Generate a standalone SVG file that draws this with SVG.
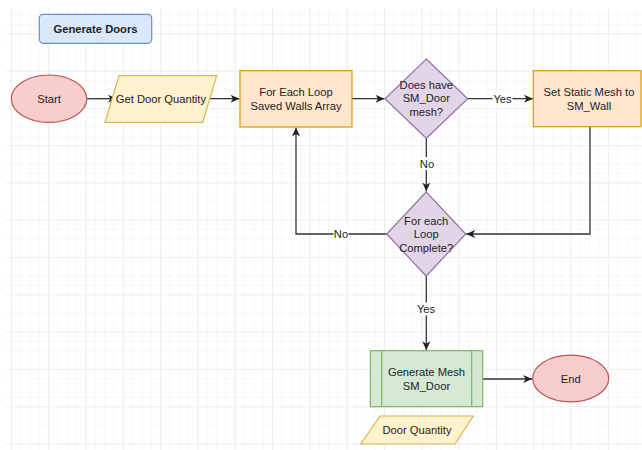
<svg xmlns="http://www.w3.org/2000/svg" width="642" height="450" viewBox="0 0 642 450">
  <defs>
    <pattern id="minor" patternUnits="userSpaceOnUse" x="11" y="33.3" width="9.325" height="9.325">
      <path d="M0,0 H9.325 M0,0 V9.325" fill="none" stroke="#f1f1f1" stroke-width="1"/>
    </pattern>
    <pattern id="major" patternUnits="userSpaceOnUse" x="11" y="33.3" width="37.3" height="37.3">
      <path d="M0,0 H37.3 M0,0 V37.3" fill="none" stroke="#e3e3e3" stroke-width="1"/>
    </pattern>
    <marker id="arrow" markerUnits="userSpaceOnUse" markerWidth="10" markerHeight="10" viewBox="0 0 10 10" refX="9" refY="5" orient="auto">
      <path d="M0,1 L9,5 L0,9 L2.5,5 z" fill="#222"/>
    </marker>
  </defs>
  <style>
    text { font-family: "Liberation Sans", Arial, sans-serif; font-size: 11.2px; fill: #222; text-anchor: middle; dominant-baseline: central; }
    .title { font-weight: bold; }
    .edge { fill: none; stroke: #333; stroke-width: 1.3; }
    .lbl { fill: #fff; }
    .term { fill: #f8cecc; stroke: #b85450; stroke-width: 1.2; }
    .io { fill: #fff2cc; stroke: #d6b656; stroke-width: 1.2; }
    .proc { fill: #ffe6cc; stroke: #d79b00; stroke-width: 1.2; }
    .dec { fill: #e1d5e7; stroke: #9673a6; stroke-width: 1.2; }
    .sub { fill: #d5e8d4; stroke: #82b366; stroke-width: 1.2; }
    .head { fill: #dae8fc; stroke: #6c8ebf; stroke-width: 1.2; }
  </style>

  <!-- background grid -->
  <rect x="0" y="0" width="642" height="450" fill="#fff"/>
  <rect x="6" y="8" width="636" height="442" fill="url(#minor)"/>
  <rect x="6" y="8" width="636" height="442" fill="url(#major)"/>

  <!-- connectors -->
  <g id="connectors">
    <path class="edge" d="M86.7,98.7 H117" marker-end="url(#arrow)"/>
    <path class="edge" d="M207,98.7 H239.5" marker-end="url(#arrow)"/>
    <path class="edge" d="M352,98.7 H384.5" marker-end="url(#arrow)"/>
    <path class="edge" d="M467.7,98.7 H533" marker-end="url(#arrow)"/>
    <path class="edge" d="M426.3,138.3 V191.5" marker-end="url(#arrow)"/>
    <path class="edge" d="M590,126.7 V234 H466.2" marker-end="url(#arrow)"/>
    <path class="edge" d="M386.7,234 H296 V127.5" marker-end="url(#arrow)"/>
    <path class="edge" d="M426.3,276 V350.2" marker-end="url(#arrow)"/>
    <path class="edge" d="M482.7,379 H532.2" marker-end="url(#arrow)"/>
    <!-- edge labels -->
    <rect class="lbl" x="492.5" y="92" width="20" height="13"/>
    <text x="502.5" y="98.5">Yes</text>
    <rect class="lbl" x="419.5" y="157" width="15" height="13"/>
    <text x="427" y="163.5">No</text>
    <rect class="lbl" x="333.5" y="227.5" width="15" height="13"/>
    <text x="341" y="234">No</text>
    <rect class="lbl" x="416" y="302.5" width="20" height="13"/>
    <text x="426" y="309">Yes</text>
  </g>

  <g id="title">
    <rect class="head" x="39.3" y="14.3" width="112.4" height="29" rx="4"/>
    <text class="title" x="95.5" y="28.8">Generate Doors</text>
  </g>

  <g id="start">
    <ellipse class="term" cx="49" cy="98.7" rx="37.7" ry="23.7"/>
    <text x="49" y="98.7">Start</text>
  </g>

  <g id="get-door-quantity">
    <polygon class="io" points="119,75.7 216.7,75.7 202.7,122.3 105,122.3"/>
    <text x="160.9" y="98.5">Get Door Quantity</text>
  </g>

  <g id="for-each-loop">
    <rect class="proc" x="240" y="70.7" width="112" height="56.3"/>
    <text x="296" y="92">For Each Loop</text>
    <text x="296" y="105.5">Saved Walls Array</text>
  </g>

  <g id="has-door-mesh">
    <polygon class="dec" points="426.3,59 467.7,98.7 426.3,138.3 385,98.7"/>
    <text x="426.3" y="85">Does have</text>
    <text x="426.3" y="98.4">SM_Door</text>
    <text x="426.3" y="111.8">mesh?</text>
  </g>

  <g id="set-static-mesh">
    <rect class="proc" x="533.3" y="70.7" width="107.7" height="56"/>
    <text x="589" y="92">Set Static Mesh to</text>
    <text x="589" y="105.5">SM_Wall</text>
  </g>

  <g id="loop-complete">
    <polygon class="dec" points="426.2,192 465.7,234 426.2,276 386.7,234"/>
    <text x="426.2" y="221">For each</text>
    <text x="426.2" y="234.4">Loop</text>
    <text x="426.2" y="248">Complete?</text>
  </g>

  <g id="generate-mesh">
    <rect class="sub" x="370.3" y="350.7" width="112.4" height="56"/>
    <path class="sub" d="M381.7,350.7 V406.7 M471.7,350.7 V406.7" fill="none"/>
    <text x="426.5" y="372.3">Generate Mesh</text>
    <text x="426.5" y="385.5">SM_Door</text>
  </g>

  <g id="end">
    <ellipse class="term" cx="570.7" cy="378.5" rx="38" ry="23.3"/>
    <text x="570.7" y="378.5">End</text>
  </g>

  <g id="door-quantity">
    <polygon class="io" points="380,416 473.3,416 455,444 360.7,444"/>
    <text x="417" y="430">Door Quantity</text>
  </g>
</svg>
